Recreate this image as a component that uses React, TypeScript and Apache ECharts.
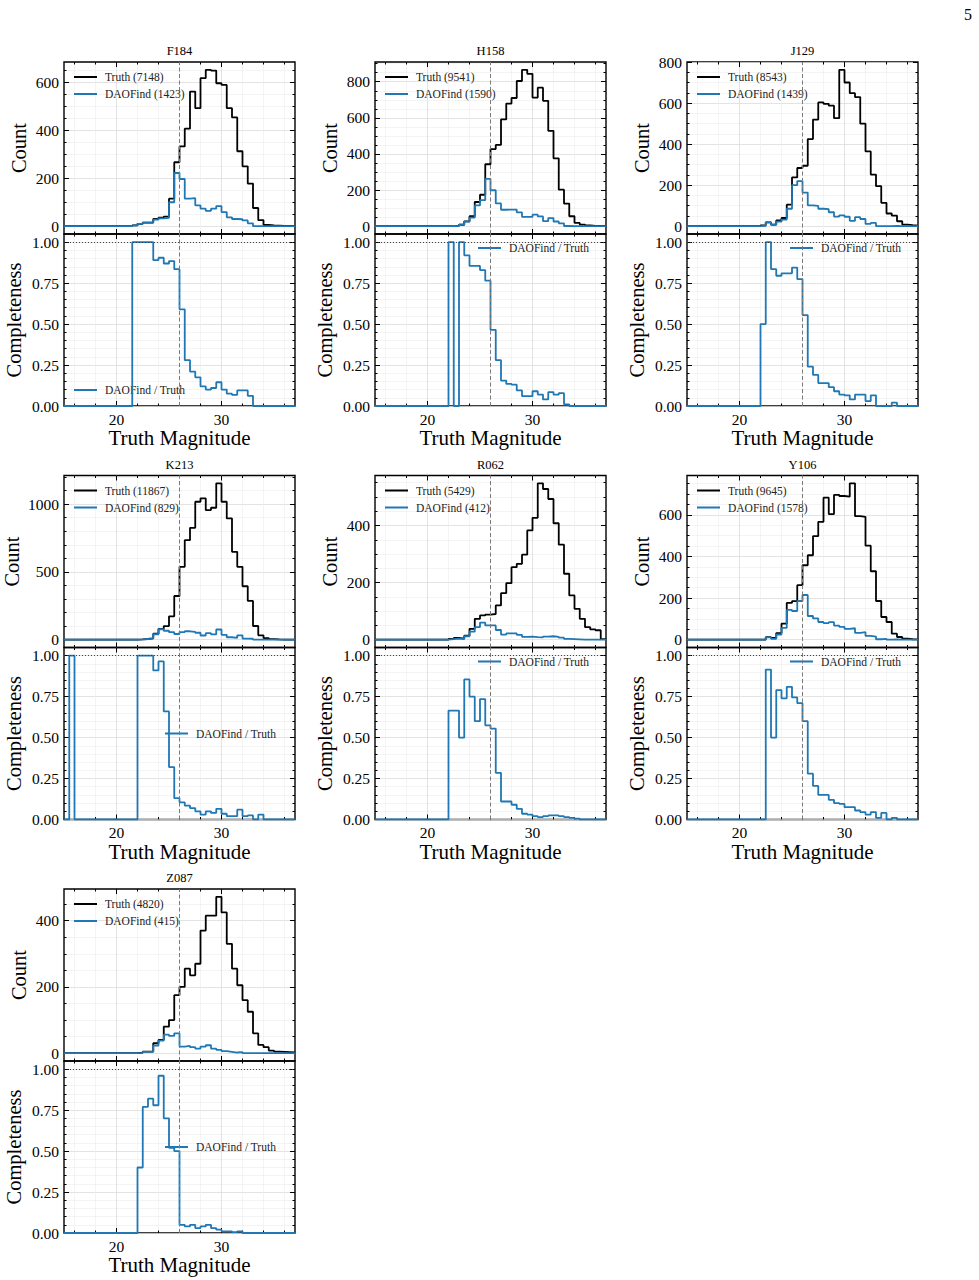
import React, { useEffect, useRef } from "react";
import * as echarts from "echarts";

// Histogram bin edges in Truth Magnitude (0.5 mag bins)
const binEdges = [
  15, 15.5, 16, 16.5, 17, 17.5, 18, 18.5, 19, 19.5, 20, 20.5, 21, 21.5, 22, 22.5,
  23, 23.5, 24, 24.5, 25, 25.5, 26, 26.5, 27, 27.5, 28, 28.5, 29, 29.5, 30, 30.5,
  31, 31.5, 32, 32.5, 33, 33.5, 34, 34.5, 35, 35.5, 36, 36.5, 37,
];

const filters = ["F184", "H158", "J129", "K213", "R062", "Y106", "Z087"];
const truthTotals = [7148, 9541, 8543, 11867, 5429, 9645, 4820];
const daoTotals = [1423, 1590, 1439, 829, 412, 1578, 415];

// ---- counts per bin ----
const truthF184 = [0,0,0,0,0,0,0,0,0,0,0,0,0,3,10,15,15,30,36,40,115,267,333,407,562,493,618,653,650,597,590,493,454,313,250,178,76,25,5,3,2,1,1,1];
const daoF184 = [0,0,0,0,0,0,0,0,0,0,0,0,0,3,10,15,15,27,33,35,100,222,197,115,117,87,73,64,73,84,59,37,30,29,24,12,0,0,0,0,0,0,0,0];
const compF184 = [0,0,0,0,0,0,0,0,0,0,0,0,0,1,1,1,1,0.89,0.905,0.87,0.885,0.835,0.59,0.28,0.21,0.175,0.12,0.1,0.11,0.145,0.1,0.075,0.068,0.095,0.095,0.062,0,0,0,0,0,0,0,0];

const truthH158 = [0,0,0,0,0,0,0,0,0,0,0,0,0,0,2,3,8,27,55,134,174,343,427,450,591,679,710,804,866,844,712,767,694,528,376,202,125,55,18,9,4,2,1,1];
const daoH158 = [0,0,0,0,0,0,0,0,0,0,0,0,0,0,2,0,8,25,47,115,144,262,199,126,91,92,92,76,52,51,64,54,28,45,26,16,1,0,0,0,0,0,0,0];
const compH158 = [0,0,0,0,0,0,0,0,0,0,0,0,0,0,1,0,1,0.92,0.855,0.855,0.83,0.765,0.465,0.28,0.155,0.135,0.13,0.095,0.06,0.06,0.09,0.07,0.04,0.085,0.07,0.078,0.01,0,0,0,0,0,0,0];

const truthJ129 = [0,0,0,0,0,0,0,0,0,0,0,0,0,0,4,19,8,28,40,105,238,284,295,425,520,604,597,588,527,763,701,649,630,500,365,252,195,114,62,52,24,8,5,3];
const daoJ129 = [0,0,0,0,0,0,0,0,0,0,0,0,0,0,2,19,7,22,32,85,200,220,164,102,99,85,83,68,47,53,46,26,44,35,11,16,0,0,0,1,0,0,0,0];
const compJ129 = [0,0,0,0,0,0,0,0,0,0,0,0,0,0,0.5,1,0.835,0.795,0.81,0.81,0.845,0.775,0.555,0.24,0.19,0.14,0.14,0.115,0.09,0.07,0.065,0.04,0.07,0.07,0.03,0.065,0,0,0,0.02,0,0,0,0];

const truthK213 = [0,1,0,0,0,0,0,0,0,0,0,0,0,0,2,5,10,44,80,100,172,322,537,734,825,1017,1042,956,973,1153,1017,894,648,537,394,286,101,32,12,4,2,1,0,0];
const daoK213 = [0,1,0,0,0,0,0,0,0,0,0,0,0,0,2,5,10,40,77,66,55,42,56,62,58,51,31,48,39,75,36,18,13,32,8,7,0,1,0,0,0,0,0,0];
const compK213 = [0,1,0,0,0,0,0,0,0,0,0,0,0,0,1,1,1,0.91,0.965,0.66,0.32,0.13,0.105,0.085,0.07,0.05,0.03,0.05,0.04,0.065,0.035,0.02,0.02,0.06,0.02,0.025,0,0.03,0,0,0,0,0,0];

const truthR062 = [0,0,0,0,0,0,0,0,0,0,0,0,0,0,3,6,4,14,38,73,85,88,90,120,163,198,254,266,298,383,427,548,528,493,408,333,231,155,108,73,44,36,33,2];
const daoR062 = [0,0,0,0,0,0,0,0,0,0,0,0,0,0,2,4,2,12,28,44,60,50,50,34,18,22,22,17,10,11,9,8,11,12,10,7,3,2,1,0,0,0,0,0];
const compR062 = [0,0,0,0,0,0,0,0,0,0,0,0,0,0,0.665,0.665,0.5,0.855,0.75,0.6,0.735,0.575,0.555,0.285,0.11,0.11,0.09,0.065,0.035,0.03,0.02,0.015,0.02,0.025,0.025,0.02,0.015,0.01,0.005,0,0,0,0,0];

const truthY106 = [0,0,0,0,0,0,0,0,0,0,0,0,0,0,0,12,8,32,77,177,185,262,358,406,498,567,683,604,696,691,688,752,594,591,452,329,186,109,85,29,13,5,2,1];
const daoY106 = [0,0,0,0,0,0,0,0,0,0,0,0,0,0,0,11,4,25,57,143,138,186,215,114,102,85,80,84,68,62,52,55,33,36,18,15,2,4,0,1,0,0,0,0];
const compY106 = [0,0,0,0,0,0,0,0,0,0,0,0,0,0,0,0.915,0.5,0.79,0.74,0.81,0.745,0.71,0.6,0.28,0.205,0.15,0.15,0.12,0.1,0.095,0.075,0.075,0.055,0.045,0.03,0.045,0.01,0.04,0,0.01,0,0,0,0];

const truthZ087 = [0,0,0,0,0,0,0,0,0,0,0,0,0,0,2,5,5,30,40,80,100,175,200,255,235,270,370,415,415,472,425,330,255,205,160,125,60,25,18,8,5,4,3,2];
const daoZ087 = [0,0,0,0,0,0,0,0,0,0,0,0,0,0,1,4,4,23,38,56,52,60,20,22,18,14,20,24,14,10,6,4,2,3,0,0,0,0,0,0,0,0,0,0];
const compZ087 = [0,0,0,0,0,0,0,0,0,0,0,0,0,0,0.4,0.77,0.82,0.78,0.96,0.7,0.52,0.5,0.05,0.04,0.05,0.03,0.04,0.05,0.03,0.02,0.01,0.01,0.005,0.01,0,0,0,0,0,0,0,0,0,0];

// ---- tick values ----
const countTicks = [
  [0, 200, 400, 600],
  [0, 200, 400, 600, 800],
  [0, 200, 400, 600, 800],
  [0, 500, 1000],
  [0, 200, 400],
  [0, 200, 400, 600],
  [0, 200, 400],
];
const countMinorStep = [50, 50, 50, 100, 50, 50, 50];
const completenessTicks = [0, 0.25, 0.5, 0.75, 1];
const completenessMinorTicks = [0.05, 0.1, 0.15, 0.2, 0.3, 0.35, 0.4, 0.45, 0.55, 0.6, 0.65, 0.7, 0.8, 0.85, 0.9, 0.95];
const magnitudeTicks = [20, 30];
const magnitudeMinorTicks = [16, 18, 22, 24, 26, 28, 32, 34, 36];
const depthMagnitude = 26;

const truthSets = [truthF184, truthH158, truthJ129, truthK213, truthR062, truthY106, truthZ087];
const daoSets = [daoF184, daoH158, daoJ129, daoK213, daoR062, daoY106, daoZ087];
const compSets = [compF184, compH158, compJ129, compK213, compR062, compY106, compZ087];

// ---- layout ----
const FONT = "'Liberation Serif', 'Times New Roman', serif";
const BLUE = "#1f77b4";
const COL_LEFT = [64, 375, 687];
const ROW_TOP = [62, 475.5, 889];
const PLOT_W = 231;
const PANEL_H = 172;
const panelSlots = [
  [0, 0], [1, 0], [2, 0],
  [0, 1], [1, 1], [2, 1],
  [0, 2],
];
const compLegendSpot = ["ll", "ur", "ur", "cr", "ur", "ur", "cr"];

const tickLine = { color: "#000", width: 1 };
const majorGrid = { color: "#dcdcdc", width: 0.8 };
const minorGrid = { color: "#ededed", width: 0.6 };
const legendText = { fontFamily: FONT, fontSize: 11.5, color: "#222", padding: [0, 0, 0, 3] };

function stepData(values: number[]) {
  const pts = values.map((v, i) => [binEdges[i], v]);
  pts.push([binEdges[values.length], values[values.length - 1]]);
  return pts;
}

function magnitudeAxes(gridIndex: number, labelled: boolean) {
  const common = {
    type: "value",
    gridIndex,
    min: 15,
    max: 37,
    axisLine: { show: false, onZero: false },
    splitLine: { show: false },
    axisLabel: { show: false },
  };
  return [
    {
      ...common,
      position: "bottom",
      axisTick: { show: true, inside: true, length: 5, customValues: magnitudeTicks, lineStyle: tickLine },
      axisLabel: labelled
        ? { show: true, customValues: magnitudeTicks, fontFamily: FONT, fontSize: 15.5, color: "#000", margin: 5 }
        : { show: false },
      splitLine: { show: true, lineStyle: majorGrid },
      name: labelled ? "Truth Magnitude" : "",
      nameLocation: "middle",
      nameGap: 21,
      nameTextStyle: { fontFamily: FONT, fontSize: 21, color: "#000" },
    },
    {
      ...common,
      position: "bottom",
      axisTick: { show: true, inside: true, length: 2.5, customValues: magnitudeMinorTicks, lineStyle: tickLine },
      splitLine: { show: true, lineStyle: minorGrid },
    },
    {
      ...common,
      position: "top",
      axisTick: { show: true, inside: true, length: 5, customValues: magnitudeTicks, lineStyle: tickLine },
    },
    {
      ...common,
      position: "top",
      axisTick: { show: true, inside: true, length: 2.5, customValues: magnitudeMinorTicks, lineStyle: tickLine },
    },
  ];
}

function valueAxes(
  gridIndex: number,
  min: number,
  max: number,
  major: number[],
  minor: number[],
  name: string,
  nameGap: number,
  fmt: (v: number) => string
) {
  const common = {
    type: "value",
    gridIndex,
    min,
    max,
    axisLine: { show: false, onZero: false },
    splitLine: { show: false },
    axisLabel: { show: false },
  };
  return [
    {
      ...common,
      position: "left",
      axisTick: { show: true, inside: true, length: 5, customValues: major, lineStyle: tickLine },
      axisLabel: { show: true, customValues: major, formatter: fmt, fontFamily: FONT, fontSize: 15.5, color: "#000", margin: 5 },
      splitLine: { show: true, lineStyle: majorGrid },
      name,
      nameLocation: "middle",
      nameGap,
      nameTextStyle: { fontFamily: FONT, fontSize: 20.5, color: "#000" },
    },
    {
      ...common,
      position: "left",
      axisTick: { show: true, inside: true, length: 2.5, customValues: minor, lineStyle: tickLine },
      splitLine: { show: true, lineStyle: minorGrid },
    },
    {
      ...common,
      position: "right",
      axisTick: { show: true, inside: true, length: 5, customValues: major, lineStyle: tickLine },
    },
    {
      ...common,
      position: "right",
      axisTick: { show: true, inside: true, length: 2.5, customValues: minor, lineStyle: tickLine },
    },
  ];
}

function buildOption() {
  const grid: any[] = [];
  const xAxis: any[] = [];
  const yAxis: any[] = [];
  const series: any[] = [];
  const legend: any[] = [];
  const graphic: any[] = [
    {
      type: "text",
      x: 968,
      y: 14,
      style: { text: "5", font: `16px ${FONT}`, fill: "#000", align: "center", verticalAlign: "middle" },
    },
  ];

  const depthLine = {
    silent: true,
    symbol: ["none", "none"],
    label: { show: false },
    lineStyle: { color: "#7a7a7a", type: [4, 2.5], width: 1 },
    data: [{ xAxis: depthMagnitude }],
  };

  filters.forEach((filter, k) => {
    const [col, row] = panelSlots[k];
    const left = COL_LEFT[col];
    const top = ROW_TOP[row];
    const truth = truthSets[k];
    const dao = daoSets[k];
    const comp = compSets[k];
    const truthName = `Truth (${truthTotals[k]})`;
    const daoName = `DAOFind (${daoTotals[k]})`;

    graphic.push({
      type: "text",
      x: left + PLOT_W / 2,
      y: top - 11,
      style: { text: filter, font: `12.5px ${FONT}`, fill: "#000", align: "center", verticalAlign: "middle" },
    });

    // ---- counts panel ----
    const gTop = grid.length;
    grid.push({ left, top, width: PLOT_W, height: PANEL_H, show: true, borderColor: "#000", borderWidth: 1.4, backgroundColor: "transparent" });
    const peak = Math.max(...truth, ...dao);
    const yMin = -0.05 * peak;
    const yMax = 1.05 * peak;
    const step = countMinorStep[k];
    const majorStep = countTicks[k][1];
    const minor: number[] = [];
    for (let v = step; v < yMax; v += step) if (v % majorStep !== 0) minor.push(v);
    const xTop = xAxis.length;
    xAxis.push(...magnitudeAxes(gTop, false));
    const yTop = yAxis.length;
    const wideLabels = Math.max(...countTicks[k]) >= 1000;
    yAxis.push(...valueAxes(gTop, yMin, yMax, countTicks[k], minor, "Count", wideLabels ? 42 : 35, (v) => String(v)));

    series.push({
      type: "line",
      name: truthName,
      xAxisIndex: xTop,
      yAxisIndex: yTop,
      step: "end",
      symbol: "none",
      data: stepData(truth),
      lineStyle: { color: "#000", width: 1.8 },
      itemStyle: { color: "#000" },
      markLine: depthLine,
      z: 3,
    });
    series.push({
      type: "line",
      name: daoName,
      xAxisIndex: xTop,
      yAxisIndex: yTop,
      step: "end",
      symbol: "none",
      data: stepData(dao),
      lineStyle: { color: BLUE, width: 1.8 },
      itemStyle: { color: BLUE },
      z: 4,
    });
    legend.push({
      left: left + 10,
      top: top + 9,
      orient: "vertical",
      icon: "rect",
      itemWidth: 23,
      itemHeight: 2,
      itemGap: 5,
      padding: 0,
      selectedMode: false,
      textStyle: legendText,
      data: [truthName, daoName],
    });

    // ---- completeness panel ----
    const bTop = top + PANEL_H;
    const gBot = grid.length;
    grid.push({ left, top: bTop, width: PLOT_W, height: PANEL_H, show: true, borderColor: "#000", borderWidth: 1.4, backgroundColor: "transparent" });
    const xBot = xAxis.length;
    xAxis.push(...magnitudeAxes(gBot, true));
    const yBot = yAxis.length;
    yAxis.push(...valueAxes(gBot, 0, 1.05, completenessTicks, completenessMinorTicks, "Completeness", 40, (v) => v.toFixed(2)));

    series.push({
      type: "line",
      name: "DAOFind / Truth",
      xAxisIndex: xBot,
      yAxisIndex: yBot,
      step: "end",
      symbol: "none",
      data: stepData(comp),
      lineStyle: { color: BLUE, width: 1.8 },
      itemStyle: { color: BLUE },
      z: 4,
      markLine: {
        silent: true,
        symbol: ["none", "none"],
        label: { show: false },
        data: [
          { xAxis: depthMagnitude, lineStyle: { color: "#7a7a7a", type: [4, 2.5], width: 1 } },
          { yAxis: 1, lineStyle: { color: "#333", type: [1, 2], width: 0.9 } },
        ],
      },
    });

    const spot = compLegendSpot[k];
    const legendPos =
      spot === "ll"
        ? { left: left + 10, top: bTop + PANEL_H - 22 }
        : spot === "ur"
        ? { left: left + 103, top: bTop + 8 }
        : { left: left + 101, top: bTop + PANEL_H / 2 - 6 };
    legend.push({
      ...legendPos,
      orient: "vertical",
      icon: "rect",
      itemWidth: 23,
      itemHeight: 2,
      padding: 0,
      selectedMode: false,
      textStyle: legendText,
      data: ["DAOFind / Truth"],
    });
  });

  return {
    animation: false,
    backgroundColor: "#fff",
    textStyle: { fontFamily: FONT },
    grid,
    xAxis,
    yAxis,
    series,
    legend,
    graphic,
  };
}

export default function App() {
  const ref = useRef<HTMLDivElement>(null);

  useEffect(() => {
    document.body.style.margin = "0";
    if (!ref.current) return;
    const chart = echarts.init(ref.current, undefined, { renderer: "svg" });
    chart.setOption(buildOption() as any);
    return () => chart.dispose();
  }, []);

  return <div ref={ref} style={{ width: 979, height: 1280, position: "absolute", left: 0, top: 0 }} />;
}
